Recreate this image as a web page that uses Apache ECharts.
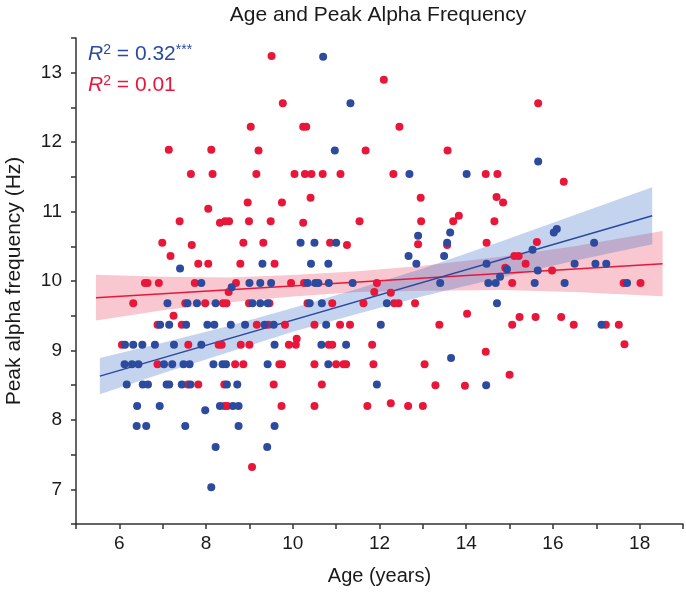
<!DOCTYPE html>
<html><head><meta charset="utf-8">
<script src="https://cdn.jsdelivr.net/npm/echarts@6/dist/echarts.min.js"></script>
<style>html,body{margin:0;padding:0;background:#fff}#c{width:686px;height:592px}</style>
</head><body><div id="c"></div>
<script>
const FONT = '"Liberation Sans", Arial, Helvetica, sans-serif';
const xTicks = [6, 8, 10, 12, 14, 16, 18];
const yTicks = [7, 8, 9, 10, 11, 12, 13];

// [age, peak alpha frequency]
const bluePoints = [
 [10.70,13.23],[11.33,12.56],[10.97,11.88],[15.66,11.72],[12.69,11.54],[14.01,11.54],
 [16.09,10.75],[16.02,10.70],[13.63,10.70],[12.89,10.65],[13.56,10.55],[10.18,10.55],
 [10.50,10.55],[11.00,10.55],[16.95,10.55],[15.53,10.45],[12.67,10.36],[13.49,10.36],
 [9.30,10.25],[10.42,10.25],[10.82,10.25],[12.85,10.25],[14.47,10.25],[16.50,10.25],
 [16.98,10.25],[17.23,10.25],[7.40,10.18],[14.94,10.17],[15.65,10.15],[14.78,10.06],
 [7.89,9.97],[9.00,9.97],[9.25,9.97],[9.50,9.97],[10.34,9.97],[10.52,9.97],[10.59,9.97],
 [10.83,9.97],[11.38,9.97],[13.40,9.97],[14.51,9.97],[14.68,9.97],[15.58,9.97],[16.27,9.97],
 [17.71,9.97],[8.59,9.91],
 [7.11,9.68],[7.57,9.68],[7.79,9.68],[8.22,9.68],[9.07,9.68],[9.25,9.68],[9.42,9.68],
 [10.39,9.68],[10.67,9.68],[12.17,9.68],[14.71,9.68],
 [6.94,9.37],[7.15,9.37],[7.54,9.37],[8.03,9.37],[8.19,9.37],[8.57,9.37],[8.90,9.37],
 [9.35,9.37],[9.56,9.37],[10.77,9.37],[12.03,9.37],[17.12,9.37],
 [6.13,9.08],[6.32,9.08],[6.53,9.08],[6.82,9.08],[7.26,9.08],[7.89,9.08],[9.58,9.08],
 [10.66,9.08],[11.23,9.08],[13.65,8.89],
 [6.12,8.80],[6.29,8.80],[6.44,8.80],[7.03,8.80],[7.22,8.80],[7.48,8.80],[7.62,8.80],
 [8.17,8.80],[8.38,8.80],[8.46,8.80],[9.42,8.80],[10.82,8.80],
 [6.17,8.51],[6.54,8.51],[6.66,8.51],[7.09,8.51],[7.15,8.51],[7.44,8.51],[7.64,8.51],
 [8.48,8.51],[8.72,8.51],[11.94,8.51],[14.46,8.50],
 [6.41,8.20],[6.93,8.20],[8.32,8.20],[8.62,8.20],[8.75,8.20],[7.98,8.14],
 [6.40,7.91],[6.62,7.91],[7.52,7.91],[8.75,7.91],[9.58,7.91],
 [8.22,7.61],[9.41,7.61],[8.12,7.03]
];

const redPoints = [
 [9.51,13.24],[12.10,12.90],[9.77,12.56],[15.66,12.56],[9.03,12.22],[10.24,12.22],
 [10.31,12.22],[12.46,12.22],[7.14,11.89],[8.12,11.89],[9.21,11.88],[11.68,11.88],
 [13.57,11.88],[7.65,11.54],[8.15,11.54],[9.16,11.54],[10.04,11.54],[10.28,11.54],
 [10.43,11.54],[10.69,11.54],[11.10,11.54],[12.32,11.54],[14.45,11.54],[14.72,11.54],
 [16.25,11.43],[10.41,11.20],[12.95,11.20],[14.70,11.21],[8.96,11.13],[9.75,11.13],
 [14.85,11.13],[8.05,11.04],[13.83,10.94],
 [7.39,10.86],[8.32,10.84],[8.44,10.86],[8.53,10.86],[8.99,10.86],[9.49,10.86],
 [10.24,10.84],[11.54,10.86],[12.96,10.86],[13.70,10.86],[14.65,10.86],
 [6.99,10.55],[8.86,10.55],[9.32,10.55],[10.86,10.55],[14.47,10.55],[15.63,10.56],
 [7.67,10.52],[11.25,10.52],[12.89,10.53],[13.56,10.52],[7.18,10.36],[15.11,10.36],
 [15.21,10.36],[7.82,10.25],[8.05,10.25],[8.79,10.25],[9.58,10.25],[15.37,10.25],
 [14.90,10.19],[15.98,10.15],
 [6.59,9.97],[6.65,9.97],[6.91,9.97],[7.74,9.97],[8.69,9.97],[9.96,9.97],[10.26,9.97],
 [11.94,9.97],[15.06,9.97],[17.63,9.97],[18.02,9.97],[8.52,9.84],[11.88,9.84],[12.26,9.83],
 [6.32,9.68],[7.52,9.68],[7.98,9.68],[8.39,9.68],[8.47,9.68],[8.99,9.68],[9.46,9.68],
 [10.34,9.68],[10.91,9.68],[11.63,9.68],[12.34,9.68],[12.44,9.68],[12.82,9.68],
 [14.02,9.53],[7.25,9.50],[15.23,9.48],[15.60,9.48],[16.19,9.48],
 [6.88,9.37],[7.44,9.37],[9.17,9.37],[9.44,9.37],[9.82,9.37],[10.50,9.37],[11.09,9.37],
 [11.32,9.37],[13.38,9.37],[15.06,9.37],[16.48,9.37],[17.22,9.37],[17.52,9.37],
 [10.09,9.17],[17.65,9.09],
 [6.06,9.08],[7.59,9.08],[8.29,9.08],[8.36,9.08],[8.80,9.08],[9.00,9.08],[9.91,9.08],
 [10.07,9.08],[10.83,9.08],[10.91,9.08],[11.83,9.08],[14.45,8.98],
 [6.88,8.80],[8.67,8.80],[8.86,8.80],[9.69,8.80],[9.75,8.80],[10.50,8.80],[11.00,8.80],
 [11.17,8.80],[11.23,8.80],[11.86,8.80],[13.04,8.80],[15.00,8.65],
 [7.58,8.51],[7.82,8.51],[8.42,8.51],[9.56,8.51],[10.67,8.51],[13.29,8.50],[13.97,8.49],
 [12.26,8.24],[8.42,8.20],[8.49,8.20],[9.74,8.20],[10.50,8.20],[11.72,8.20],[12.66,8.20],
 [13.00,8.20],[9.06,7.32]
];

// regression lines (end points) and confidence bands
const blueFitX = [5.55, 18.29];
const blueFitY = [8.63, 10.94];
const redFitX = [5.46, 18.53];
const redFitY = [9.76, 10.25];

const blueBandX = [5.55, 7, 8.5, 10, 11.5, 13, 14.8, 16.5, 18.29];
const blueBandHi = [8.89, 9.11, 9.35, 9.61, 9.89, 10.18, 10.57, 10.95, 11.35];
const blueBandLo = [8.37, 8.67, 8.97, 9.27, 9.53, 9.78, 10.05, 10.29, 10.53];
const redBandX = [5.46, 7, 8.5, 10, 11.5, 13, 14.8, 16.5, 18.53];
const redBandHi = [10.09, 10.06, 10.05, 10.085, 10.14, 10.22, 10.35, 10.50, 10.72];
const redBandLo = [9.43, 9.58, 9.69, 9.775, 9.84, 9.86, 9.87, 9.84, 9.78];

const BLUE = '#2c4a9e';
const RED = '#e8173a';

function band(xs, hi, lo, fill, z) {
  return {
    type: 'custom', z: z, silent: true, data: [[10, 10]],
    renderItem: function (params, api) {
      const pts = [];
      for (let i = 0; i < xs.length; i++) pts.push(api.coord([xs[i], hi[i]]));
      for (let i = xs.length - 1; i >= 0; i--) pts.push(api.coord([xs[i], lo[i]]));
      return { type: 'polygon', shape: { points: pts }, style: { fill: fill } };
    }
  };
}
function fit(xs, ys, color) {
  return {
    type: 'line', z: 3, silent: true, showSymbol: false, symbol: 'none',
    data: xs.map((x, i) => [x, ys[i]]),
    lineStyle: { color: color, width: 1.5 }
  };
}
function r2Rich(color) {
  return {
    i: { fontSize: 21, fontStyle: 'italic', fontFamily: FONT, fill: color, lineHeight: 22 },
    n: { fontSize: 21, fontFamily: FONT, fill: color, lineHeight: 22 },
    s: { fontSize: 14, fontFamily: FONT, fill: color, verticalAlign: 'top', lineHeight: 13 }
  };
}

const chart = echarts.init(document.getElementById('c'), null, { renderer: 'canvas' });
const axisCommon = {
  axisLine: { show: true, onZero: false, lineStyle: { color: '#333', width: 1.5 } },
  axisTick: { show: true, inside: false, length: 5, lineStyle: { color: '#333', width: 1.5 } },
  splitLine: { show: false },
  nameLocation: 'middle'
};
chart.setOption({
  animation: false,
  backgroundColor: '#fff',
  grid: { left: 76, right: 3, top: 38, bottom: 68, containLabel: false, outerBoundsMode: 'none' },
  xAxis: Object.assign({}, axisCommon, {
    type: 'value', min: 5, max: 19, interval: 1,
    name: 'Age (years)', nameGap: 42,
    nameTextStyle: { fontSize: 20, color: '#1a1a1a', fontFamily: FONT },
    axisLabel: { margin: 10, fontSize: 19, color: '#1a1a1a', fontFamily: FONT,
      formatter: v => xTicks.includes(v) ? String(v) : '' }
  }),
  yAxis: Object.assign({}, axisCommon, {
    type: 'value', min: 6.5, max: 13.5, interval: 0.5,
    name: 'Peak alpha frequency (Hz)', nameGap: 51,
    nameTextStyle: { fontSize: 21, color: '#1a1a1a', fontFamily: FONT },
    axisLabel: { margin: 14, fontSize: 19, color: '#1a1a1a', fontFamily: FONT,
      formatter: v => yTicks.includes(v) ? String(v) : '' }
  }),
  graphic: [
    { type: 'text', x: 378, y: 15, silent: true,
      style: { text: 'Age and Peak Alpha Frequency', fill: '#1a1a1a',
        font: '21px ' + FONT, align: 'center', verticalAlign: 'middle' } },
    { type: 'text', x: 88, y: 54, silent: true,
      style: { text: '{i|R}{s|2}{n| = 0.32}{s|***}', fill: BLUE, verticalAlign: 'middle',
        rich: r2Rich(BLUE) } },
    { type: 'text', x: 88, y: 85, silent: true,
      style: { text: '{i|R}{s|2}{n| = 0.01}', fill: RED, verticalAlign: 'middle',
        rich: r2Rich(RED) } }
  ],
  series: [
    band(redBandX, redBandHi, redBandLo, 'rgba(228,40,70,0.26)', 1),
    band(blueBandX, blueBandHi, blueBandLo, 'rgba(60,110,200,0.30)', 2),
    fit(redFitX, redFitY, RED),
    fit(blueFitX, blueFitY, '#2a48a0'),
    { type: 'scatter', z: 4, data: redPoints, symbolSize: 8, itemStyle: { color: RED, opacity: 1 } },
    { type: 'scatter', z: 5, data: bluePoints, symbolSize: 8, itemStyle: { color: BLUE, opacity: 1 } }
  ]
});
</script></body></html>
